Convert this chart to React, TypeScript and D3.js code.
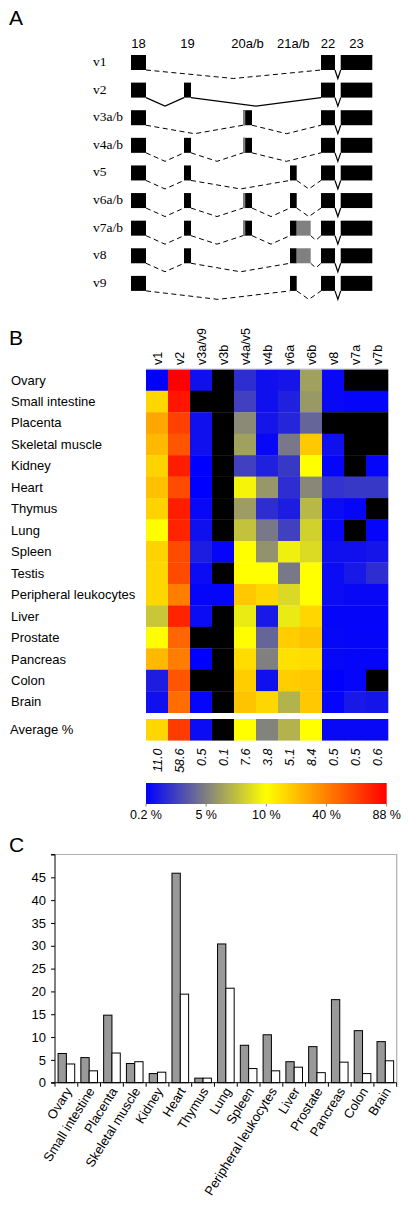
import * as React from 'react';
import * as d3 from 'd3';

// ---------- Panel A: exon structure ----------
const variants = ['v1', 'v2', 'v3a/b', 'v4a/b', 'v5', 'v6a/b', 'v7a/b', 'v8', 'v9'];
const exonKeys = ['18', '19', '20', '21', '21x', '22', '23'];
const exonStart = [0, 53, 112, 159, 165.7, 190, 209.7];
const exonEnd = [15, 60, 121, 165.7, 179.7, 204, 241.3];
const exon20AltEnd = 114.3;
const headerKeys = ['18', '19', '20', '21', '22', '23'];
const headerLabels = ['18', '19', '20a/b', '21a/b', '22', '23'];
const variantExons = [
    ['18', '22', '23'],
    ['18', '19', '22', '23'],
    ['18', '20', '22', '23'],
    ['18', '19', '20', '22', '23'],
    ['18', '19', '21', '22', '23'],
    ['18', '19', '20', '21', '22', '23'],
    ['18', '19', '20', '21', '21x', '22', '23'],
    ['18', '19', '21', '21x', '22', '23'],
    ['18', '21', '22', '23'],
];

// ---------- Panel B: heatmap ----------
const heatColumns = ['v1', 'v2', 'v3a/v9', 'v3b', 'v4a/v5', 'v4b', 'v6a', 'v6b', 'v8', 'v7a', 'v7b'];
const tissues = ['Ovary', 'Small intestine', 'Placenta', 'Skeletal muscle', 'Kidney', 'Heart', 'Thymus', 'Lung',
    'Spleen', 'Testis', 'Peripheral leukocytes', 'Liver', 'Prostate', 'Pancreas', 'Colon', 'Brain'];
// percent of transcripts; null = not detected (black)
const heatRows: (number | null)[][] = [
    [0.2, 88, 0.8, null, 1.9, 0.8, 1.0, 6.3, 0.5, null, null],
    [19.4, 80, null, null, 2.6, 0.8, 1.4, 6.0, 0.5, 0.4, 0.4],
    [31, 64, 0.8, null, 5.4, 1.0, 1.6, 4.0, null, null, null],
    [26.5, 56, 0.8, null, 6.3, 0.5, 4.7, 23, 0.8, null, null],
    [20.5, 77, 0.2, null, 2.6, 1.4, 2.3, 10, 0.4, null, 0.4],
    [25, 60, 0.2, null, 9.6, 5.9, 1.9, 5.3, 2.1, 2.3, 2.3],
    [20.5, 77, 0.5, null, 6.1, 1.9, 1.3, 7.2, 0.6, 0.4, null],
    [10, 75, 0.8, null, 7.6, 4.7, 2.6, 8.2, 0.5, null, 0.4],
    [20.5, 60, 1.3, 0.4, 10, 5.7, 9.4, 8.6, 0.8, 0.8, 1.0],
    [19.4, 60, 0.6, null, 10, 10, 4.7, 10, 0.6, 1.1, 1.9],
    [19.4, 41, 0.4, 0.4, 23, 19.4, 8.5, 10, 0.6, 0.5, 0.5],
    [7.8, 75, 0.6, null, 9.2, 1.1, 9.2, 19.4, 0.4, 0.4, 0.4],
    [10, 50, null, null, 10.5, 4.0, 21.8, 24, 0.45, 0.4, 0.4],
    [26.5, 41, 0.2, null, 18, 5.0, 17, 18, 0.45, 0.4, 0.4],
    [1.3, 56, null, null, 21.8, 0.8, 21.8, 23, 0.2, 0.4, null],
    [0.8, 47, 0.4, null, 24, 19.4, 7.0, 23, 0.4, 1.1, 1.0],
];
const averageColor: (number | null)[] = [19.4, 66, 0.6, null, 10, 5.1, 7.0, 10, 0.5, 0.5, 0.5];
const averageLabels = ['11.0', '58.6', '0.5', '0.1', '7.6', '3.8', '5.1', '8.4', '0.5', '0.5', '0.6'];
const legendStops = [0.2, 5, 10, 40, 88];
const legendLabels = ['0.2 %', '5 %', '10 %', '40 %', '88 %'];
const legendColors = ['#0000ff', '#808080', '#ffff00', '#ff8000', '#ff0000'];

// ---------- Panel C: bar chart ----------
const barTissues = ['Ovary', 'Small intestine', 'Placenta', 'Skeletal muscle', 'Kidney', 'Heart', 'Thymus', 'Lung',
    'Spleen', 'Peripheral leukocytes', 'Liver', 'Prostate', 'Pancreas', 'Colon', 'Brain'];
const grayValues = [6.4, 5.5, 14.8, 4.2, 2.0, 45.9, 1.0, 30.4, 8.2, 10.5, 4.6, 7.9, 18.2, 11.4, 9.0];
const whiteValues = [4.1, 2.6, 6.5, 4.6, 2.3, 19.4, 1.0, 20.7, 3.1, 2.6, 3.4, 2.2, 4.5, 2.0, 4.8];
const yTicks = [0, 5, 10, 15, 20, 25, 30, 35, 40, 45];

const SANS = '"Liberation Sans", Arial, sans-serif';
const SERIF = '"Liberation Serif", "Times New Roman", serif';

function drawPanelA(svg) {
    const x = d3.scaleLinear().domain([0, 241.3]).range([131, 372.3]);
    const y = d3.scaleBand().domain(variants).range([55, 303.5]).paddingInner(0);
    const boxH = 15;
    const exonIdx = (k) => exonKeys.indexOf(k);

    svg.append('text').attr('x', 9).attr('y', 25).style('font-family', SANS).style('font-size', '21px').text('A');

    svg.append('g').selectAll('text')
        .data(headerKeys)
        .enter()
        .append('text')
        .attr('x', (k) => x((exonStart[exonIdx(k)] + exonEnd[exonIdx(k)]) / 2))
        .attr('y', 47.5)
        .attr('text-anchor', 'middle')
        .style('font-family', SANS)
        .style('font-size', '13px')
        .text((k, i) => headerLabels[i]);

    variants.forEach((v, r) => {
        const top = y(v);
        const bottom = top + boxH;
        const g = svg.append('g');
        g.append('text').attr('x', 93).attr('y', top + 11)
            .style('font-family', SERIF).style('font-size', '13.5px').text(v);
        const ex = variantExons[r];
        const solid = v === 'v2';
        for (let i = 0; i < ex.length - 1; i++) {
            const a = ex[i], b = ex[i + 1];
            if (a === '21' && b === '21x') continue;
            const x0 = x(exonEnd[exonIdx(a)]);
            const x1 = x(exonStart[exonIdx(b)]);
            const len = x1 - x0;
            const isV = a === '22' && b === '23';
            const dip = isV ? 8.5 : Math.min(8.5, len * 0.45);
            g.append('path')
                .attr('d', d3.line()([[x0, bottom], [(x0 + x1) / 2, bottom + dip], [x1, bottom]]))
                .attr('fill', 'none')
                .attr('stroke', '#000')
                .attr('stroke-width', solid || isV ? 1.2 : 1)
                .attr('stroke-dasharray', solid || isV ? null : '5,3.5');
        }
        ex.forEach((k) => {
            const j = exonIdx(k);
            const x0 = x(exonStart[j]);
            const x1 = x(exonEnd[j]);
            g.append('rect').attr('x', x0).attr('y', top).attr('width', x1 - x0).attr('height', boxH)
                .attr('fill', k === '21x' ? '#808080' : '#000');
            if (k === '20') {
                g.append('rect').attr('x', x0).attr('y', top).attr('width', x(exon20AltEnd) - x0).attr('height', boxH)
                    .attr('fill', '#808080');
            }
        });
    });
}

function drawPanelB(svg) {
    const x = d3.scaleBand().domain(heatColumns).range([146, 388]);
    const y = d3.scaleBand().domain(tissues).range([369.3, 712.7]);
    const color = d3.scaleLinear<string>().domain(legendStops).range(legendColors).clamp(true);
    const fill = (v) => (v === null ? '#000' : color(v));

    svg.append('text').attr('x', 9).attr('y', 345).style('font-family', SANS).style('font-size', '21px').text('B');

    svg.append('g').selectAll('text')
        .data(heatColumns)
        .enter()
        .append('text')
        .attr('transform', (c) => 'translate(' + (x(c) + x.bandwidth() / 2 + 4.5) + ',365) rotate(-90)')
        .style('font-family', SANS)
        .style('font-size', '12.5px')
        .text((c) => c);

    const g = svg.append('g');
    tissues.forEach((t, r) => {
        g.append('text').attr('x', 11).attr('y', y(t) + y.bandwidth() / 2 + 4.5)
            .style('font-family', SANS).style('font-size', '13px').text(t);
        heatRows[r].forEach((v, c) => {
            g.append('rect')
                .attr('x', x(heatColumns[c]))
                .attr('y', y(t))
                .attr('width', x.bandwidth() + 0.3)
                .attr('height', y.bandwidth() + 0.3)
                .attr('fill', fill(v));
        });
    });
    g.append('line').attr('x1', 146).attr('x2', 388).attr('y1', 369).attr('y2', 369)
        .attr('stroke', '#c8c8d8').attr('stroke-width', 1);

    const avgTop = 719;
    const avgH = 21.6;
    g.append('text').attr('x', 10).attr('y', avgTop + avgH / 2 + 4.5)
        .style('font-family', SANS).style('font-size', '13px').text('Average %');
    averageColor.forEach((v, c) => {
        g.append('rect').attr('x', x(heatColumns[c])).attr('y', avgTop)
            .attr('width', x.bandwidth() + 0.3).attr('height', avgH).attr('fill', fill(v));
    });
    g.selectAll('.avg-label')
        .data(averageLabels)
        .enter()
        .append('text')
        .attr('class', 'avg-label')
        .attr('transform', (d, i) => 'translate(' + (x(heatColumns[i]) + x.bandwidth() / 2 + 4.5) + ',748.5) rotate(-90)')
        .attr('text-anchor', 'end')
        .style('font-family', SANS)
        .style('font-style', 'italic')
        .style('font-size', '12.5px')
        .text((d) => d);

    // colour legend
    const lx = d3.scalePoint().domain(legendLabels).range([146, 386.7]);
    const defs = svg.append('defs');
    const grad = defs.append('linearGradient').attr('id', 'legend-grad').attr('x1', '0%').attr('x2', '100%');
    legendColors.forEach((c, i) => {
        grad.append('stop').attr('offset', (i / (legendColors.length - 1)) * 100 + '%').attr('stop-color', c);
    });
    svg.append('rect').attr('x', 146).attr('y', 783).attr('width', 240.7).attr('height', 21).attr('fill', 'url(#legend-grad)');
    const lg = svg.append('g');
    legendLabels.forEach((l) => {
        lg.append('line').attr('x1', lx(l)).attr('x2', lx(l)).attr('y1', 804).attr('y2', 806.5)
            .attr('stroke', '#888').attr('stroke-width', 1);
        lg.append('text').attr('x', lx(l)).attr('y', 819).attr('text-anchor', 'middle')
            .style('font-family', SANS).style('font-size', '12.5px').text(l);
    });
}

function drawPanelC(svg) {
    const left = 55, right = 396.7, top = 854.5, bottom = 1082.7;
    const x = d3.scaleBand().domain(barTissues).range([left, right]);
    const inner = d3.scaleBand().domain(['gray', 'white']).range([0, x.bandwidth()]).paddingOuter(0.37);
    const y = d3.scaleLinear().domain([0, 50]).range([bottom, top]);

    svg.append('text').attr('x', 9).attr('y', 852).style('font-family', SANS).style('font-size', '21px').text('C');

    // plot frame (Excel style)
    svg.append('path').attr('d', 'M' + left + ',' + top + 'H' + right + 'V' + bottom)
        .attr('fill', 'none').attr('stroke', '#b0b0b0').attr('stroke-width', 1.2);

    const bars = svg.append('g');
    bars.selectAll('.bar-gray')
        .data(grayValues)
        .enter()
        .append('rect')
        .attr('class', 'bar-gray')
        .attr('x', (d, i) => x(barTissues[i]) + inner('gray'))
        .attr('y', (d) => y(d))
        .attr('width', inner.bandwidth())
        .attr('height', (d) => bottom - y(d))
        .attr('fill', '#999999')
        .attr('stroke', '#000')
        .attr('stroke-width', 1);
    bars.selectAll('.bar-white')
        .data(whiteValues)
        .enter()
        .append('rect')
        .attr('class', 'bar-white')
        .attr('x', (d, i) => x(barTissues[i]) + inner('white'))
        .attr('y', (d) => y(d))
        .attr('width', inner.bandwidth())
        .attr('height', (d) => bottom - y(d))
        .attr('fill', '#ffffff')
        .attr('stroke', '#000')
        .attr('stroke-width', 1);

    const yAxis = d3.axisLeft(y).tickValues(d3.range(0, 51, 5)).tickSize(4).tickFormat((d) => (yTicks.indexOf(+d) >= 0 ? String(d) : ''));
    svg.append('g')
        .attr('transform', 'translate(' + left + ',0)')
        .call(yAxis)
        .call((g) => g.selectAll('text').style('font-family', SANS).style('font-size', '13px').attr('x', -9))
        .call((g) => g.select('.domain').attr('d', 'M-4,' + top + 'H0V' + bottom + 'H-4'));

    const xb = svg.append('g');
    xb.append('line').attr('x1', left).attr('x2', right).attr('y1', bottom).attr('y2', bottom).attr('stroke', '#000');
    barTissues.concat(['']).forEach((t, i) => {
        const tx = left + i * x.step();
        xb.append('line').attr('x1', tx).attr('x2', tx).attr('y1', bottom).attr('y2', bottom + 4).attr('stroke', '#000');
    });
    xb.selectAll('.x-label')
        .data(barTissues)
        .enter()
        .append('text')
        .attr('class', 'x-label')
        .attr('transform', (t) => 'translate(' + (x(t) + x.bandwidth() / 2 + 6) + ',1091) rotate(-58)')
        .attr('text-anchor', 'end')
        .style('font-family', SANS)
        .style('font-size', '13px')
        .text((t) => t);
}

export default function App() {
    const ref = React.useRef<SVGSVGElement>(null);
    React.useEffect(() => {
        const svg = d3.select(ref.current);
        svg.selectAll('*').remove();
        drawPanelA(svg);
        drawPanelB(svg);
        drawPanelC(svg);
    }, []);
    return (
        <svg
            ref={ref}
            width={410}
            height={1207}
            style={{ position: 'absolute', left: 0, top: 0, background: '#fff' }}
        />
    );
}
